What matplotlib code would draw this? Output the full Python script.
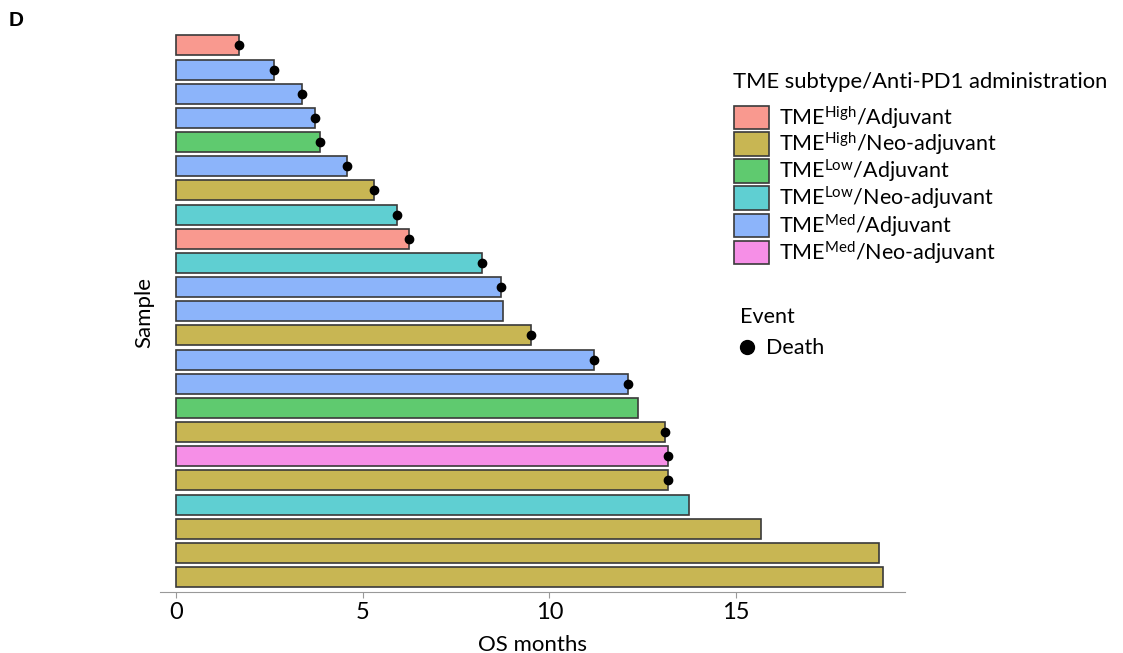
import matplotlib
matplotlib.use("Agg")
import matplotlib.pyplot as plt
from matplotlib.patches import Patch
from matplotlib.lines import Line2D

plt.rcParams['font.family'] = ['Lato', 'DejaVu Sans']
plt.rcParams['mathtext.fontset'] = 'custom'
plt.rcParams['mathtext.rm'] = 'Lato'
plt.rcParams['mathtext.it'] = 'Lato'

# Data (top to bottom)
os_months = [1.69, 2.61, 3.37, 3.71, 3.85, 4.58, 5.30, 5.92, 6.25, 8.20, 8.71, 8.76,
             9.51, 11.20, 12.11, 12.38, 13.10, 13.17, 13.17, 13.75, 15.68, 18.83, 18.94]
groups = ["High/Adj", "Med/Adj", "Med/Adj", "Med/Adj", "Low/Adj", "Med/Adj", "High/Neo",
          "Low/Neo", "High/Adj", "Low/Neo", "Med/Adj", "Med/Adj", "High/Neo", "Med/Adj",
          "Med/Adj", "Low/Adj", "High/Neo", "Med/Neo", "High/Neo", "Low/Neo", "High/Neo",
          "High/Neo", "High/Neo"]
death = [1, 1, 1, 1, 1, 1, 1, 1, 1, 1, 1, 0, 1, 1, 1, 0, 1, 1, 1, 0, 0, 0, 0]

group_order = ["High/Adj", "High/Neo", "Low/Adj", "Low/Neo", "Med/Adj", "Med/Neo"]
group_labels = [r"TME$^{\mathrm{High}}$/Adjuvant", r"TME$^{\mathrm{High}}$/Neo-adjuvant",
                r"TME$^{\mathrm{Low}}$/Adjuvant", r"TME$^{\mathrm{Low}}$/Neo-adjuvant",
                r"TME$^{\mathrm{Med}}$/Adjuvant", r"TME$^{\mathrm{Med}}$/Neo-adjuvant"]
group_colors = ["#F9998F", "#C8B653", "#5FCA6F", "#5FCFD2", "#8CB4FA", "#F68FE7"]
cmap = dict(zip(group_order, group_colors))

fig = plt.figure(figsize=(11.23, 6.53), dpi=100)
ax = fig.add_axes([0.1425, 0.0934, 0.6635, 0.8556])

n = len(os_months)
ypos = [n - 1 - i for i in range(n)]
ax.barh(ypos, os_months, height=0.83, color=[cmap[g] for g in groups],
        edgecolor="#3a3a3a", linewidth=1.2)
dx = [v for v, d in zip(os_months, death) if d]
dy = [y for y, d in zip(ypos, death) if d]
ax.plot(dx, dy, 'o', color='black', markersize=6, linestyle='none', zorder=5)

ax.set_xlim(-0.43, 19.53)
ax.set_ylim(-0.62, n - 0.5)
ax.set_xticks([0, 5, 10, 15])
ax.set_yticks([])
for s in ['top', 'right', 'left']:
    ax.spines[s].set_visible(False)
ax.spines['bottom'].set_color('#999999')
ax.tick_params(axis='x', colors='#999999', labelcolor='black', labelsize=17, length=4)
ax.set_xlabel("OS months", fontsize=16, labelpad=8)
ax.set_ylabel("Sample", fontsize=16, labelpad=4)

fig.text(733 / 1123, 1 - 82 / 653, "TME subtype/Anti-PD1 administration",
         fontsize=15.8, va='center', ha='left')
handles = [Patch(facecolor=c, edgecolor="#3a3a3a", linewidth=1.2) for c in group_colors]
leg1 = fig.legend(handles, group_labels,
                  loc='upper left', bbox_to_anchor=(0.6367, 0.871), frameon=False,
                  fontsize=15.5, handlelength=1.63, handleheight=1.3,
                  labelspacing=0.0, handletextpad=0.45)
leg2 = fig.legend([Line2D([], [], marker='o', color='black', linestyle='none', markersize=10)],
                  ["Death"], title="Event", loc='upper left', bbox_to_anchor=(0.642, 0.559),
                  frameon=False, fontsize=15.5, title_fontsize=15.5, handlelength=0.6,
                  handletextpad=0.6, alignment='left')

fig.text(0.008, 0.968, "D", fontsize=15, fontweight='bold', family='Liberation Sans',
         va='center')

fig.savefig("out.png", dpi=100)
